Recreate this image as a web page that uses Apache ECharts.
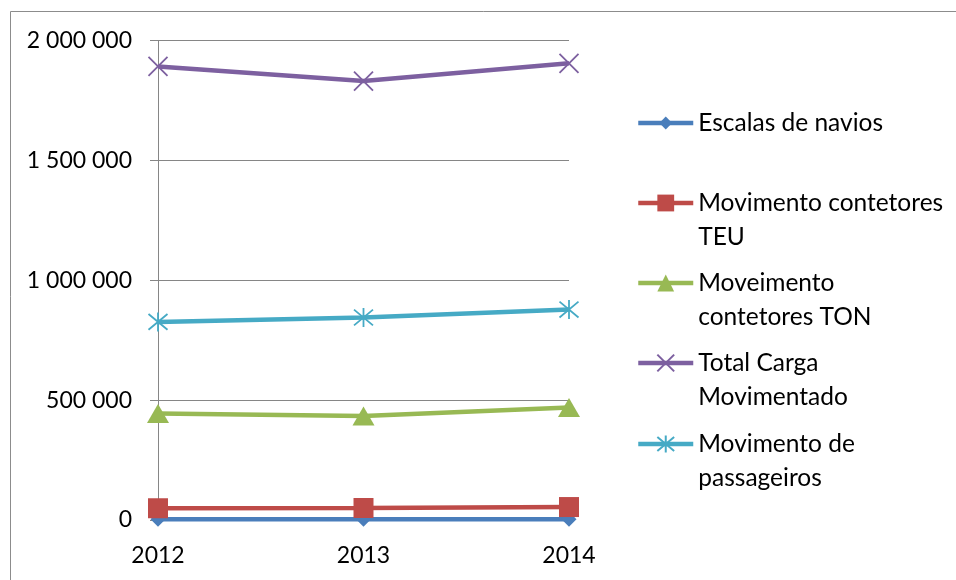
<!DOCTYPE html>
<html>
<head>
<meta charset="utf-8">
<script src="https://cdn.jsdelivr.net/npm/echarts@6/dist/echarts.min.js"></script>
<style>
html,body{margin:0;padding:0;background:#fff;}
#c{width:956px;height:580px;}
</style>
</head>
<body>
<div id="c"></div>
<script>
const categories = ['2012', '2013', '2014'];
const escalasNavios = [3000, 3000, 3000];
const movTEU = [49000, 50000, 54000];
const movTON = [444600, 433300, 469600];
const totalCarga = [1891700, 1831000, 1905000];
const movPassageiros = [826300, 844600, 877900];
const yTicks = [0, 500000, 1000000, 1500000, 2000000];

const FONT = 'Lato';
const FS = 23;
const LFS = 24.5;
const colors = ['#4A7EBB', '#BE4B48', '#98B954', '#7D60A0', '#46AAC5'];
const xPath = 'path://M0 0L10 10M10 0L0 10';
const starPath = 'path://M0 0L10 10M10 0L0 10M5 -1L5 11';

function fmt(v){ return String(v).replace(/\B(?=(\d{3})+(?!\d))/g, ' '); }

const series = [
  {name:'Escalas de navios', data: escalasNavios, symbol:'diamond', symbolSize:15,
   color: colors[0], itemStyle:{color:colors[0]}},
  {name:'Movimento contetores TEU', data: movTEU, symbol:'rect', symbolSize:20,
   color: colors[1], itemStyle:{color:colors[1]}},
  {name:'Moveimento contetores TON', data: movTON, symbol:'triangle', symbolSize:[22,19],
   color: colors[2], itemStyle:{color:colors[2]}},
  {name:'Total Carga Movimentado', data: totalCarga, symbol:xPath, symbolSize:19,
   color: colors[3], itemStyle:{color:'rgba(0,0,0,0)', borderColor:colors[3], borderWidth:1.8}},
  {name:'Movimento de passageiros', data: movPassageiros, symbol:starPath, symbolSize:19,
   color: colors[4], itemStyle:{color:'rgba(0,0,0,0)', borderColor:colors[4], borderWidth:1.8}}
].map(s => Object.assign({
  type:'line', showSymbol:true, showAllSymbol:true, animation:false,
  lineStyle:{width:4.5, color:s.color}, z: 2
}, s));

const legendLayout = [
  {name: series[0].name, label: 'Escalas de navios', center: 123, two:false, ih:16},
  {name: series[1].name, label: '\nMovimento contetores\nTEU', center: 203, two:true, ih:21},
  {name: series[2].name, label: '\nMoveimento\ncontetores TON', center: 283, two:true, ih:21},
  {name: series[3].name, label: '\nTotal Carga\nMovimentado', center: 363, two:true, ih:21},
  {name: series[4].name, label: '\nMovimento de\npassageiros', center: 444, two:true, ih:21}
];
const LH = 34;
const legends = legendLayout.map(l => ({
  show:true, orient:'vertical', left:636,
  top: l.two ? l.center - (LH*3)/2 : l.center - LH/2,
  padding:0, itemWidth:55, itemHeight:l.ih, selectedMode:false,
  data:[{name:l.name}],
  lineStyle:{width:4.5},
  formatter: () => l.label,
  textStyle:{fontFamily:FONT, fontSize:LFS, color:'#000', lineHeight:LH}
}));

const chart = echarts.init(document.getElementById('c'), null, {renderer:'canvas'});
chart.setOption({
  backgroundColor:'#fff',
  animation:false,
  graphic:[{type:'rect', shape:{x:10.5, y:11.5, width:1000, height:700},
    style:{fill:'none', stroke:'#8c8c8c', lineWidth:1}, silent:true, z:-10}],
  grid:{left:158, right:387, top:40.5, bottom:60, containLabel:false},
  legend: legends,
  xAxis:{type:'category', data:categories, boundaryGap:false,
    axisLine:{show:true, lineStyle:{color:'#868686', width:1}},
    axisTick:{show:false},
    axisLabel:{fontFamily:FONT, fontSize:FS, color:'#000', margin:24},
    splitLine:{show:false}},
  yAxis:{type:'value', min:0, max:2000000, interval:500000,
    axisLine:{show:true, lineStyle:{color:'#868686', width:1}},
    axisTick:{show:true, inside:false, length:8, lineStyle:{color:'#868686'}},
    axisLabel:{fontFamily:FONT, fontSize:FS, color:'#000', margin:26,
      formatter: v => yTicks.indexOf(v) >= 0 ? fmt(v) : ''},
    splitLine:{show:true, lineStyle:{color:'#868686', width:1}}},
  series: series
});
</script>
</body>
</html>
